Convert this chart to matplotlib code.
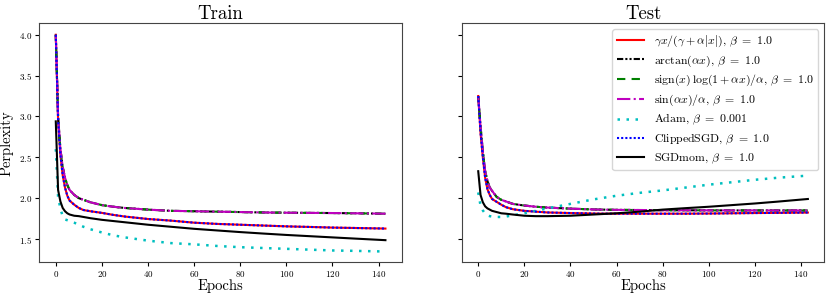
import matplotlib
matplotlib.use("Agg")
import matplotlib.pyplot as plt

plt.rcParams["font.family"] = "serif"
plt.rcParams["font.serif"] = ["cmr10"]
plt.rcParams["mathtext.fontset"] = "cm"
plt.rcParams["axes.formatter.use_mathtext"] = True

epochs = [0, 1, 2, 3, 4, 5, 6, 8, 10, 12, 15, 20, 25, 30, 40, 50, 60, 70, 80,
          90, 100, 110, 120, 130, 143]

# train perplexity
train_gamma = [4.0, 2.95, 2.53, 2.28, 2.13, 2.03, 1.97, 1.92, 1.88, 1.855, 1.84,
               1.82, 1.795, 1.775, 1.745, 1.725, 1.70, 1.685, 1.675, 1.665,
               1.655, 1.648, 1.64, 1.635, 1.628]
train_arctan = [4.0, 3.0, 2.6, 2.38, 2.25, 2.16, 2.10, 2.04, 2.0, 1.98, 1.95,
                1.915, 1.895, 1.88, 1.86, 1.845, 1.84, 1.835, 1.83, 1.825,
                1.822, 1.82, 1.818, 1.815, 1.81]
train_signlog = [4.0, 3.0, 2.6, 2.38, 2.25, 2.16, 2.10, 2.04, 2.0, 1.98, 1.95,
                 1.915, 1.895, 1.88, 1.86, 1.845, 1.84, 1.835, 1.83, 1.825,
                 1.822, 1.82, 1.818, 1.815, 1.81]
train_sin = [4.0, 3.0, 2.6, 2.38, 2.25, 2.16, 2.10, 2.04, 2.0, 1.98, 1.95,
             1.915, 1.895, 1.88, 1.86, 1.845, 1.84, 1.835, 1.83, 1.825,
             1.822, 1.82, 1.818, 1.815, 1.81]
train_adam = [2.6, 2.02, 1.87, 1.78, 1.74, 1.73, 1.72, 1.70, 1.675, 1.65, 1.62,
              1.58, 1.545, 1.52, 1.48, 1.45, 1.435, 1.415, 1.40, 1.39, 1.38,
              1.37, 1.36, 1.355, 1.347]
train_clipped = [4.0, 2.95, 2.53, 2.28, 2.13, 2.03, 1.97, 1.92, 1.88, 1.855,
                 1.84, 1.82, 1.795, 1.775, 1.745, 1.725, 1.70, 1.685, 1.675,
                 1.665, 1.655, 1.648, 1.64, 1.635, 1.628]
train_sgdmom = [2.94, 2.10, 1.96, 1.88, 1.84, 1.815, 1.80, 1.785, 1.78, 1.77,
                1.755, 1.735, 1.72, 1.705, 1.675, 1.65, 1.625, 1.605, 1.585,
                1.567, 1.55, 1.535, 1.52, 1.505, 1.486]

# test perplexity
test_gamma = [3.25, 2.80, 2.50, 2.25, 2.11, 2.04, 1.99, 1.955, 1.92, 1.89,
              1.865, 1.845, 1.835, 1.825, 1.818, 1.812, 1.81, 1.81, 1.81,
              1.81, 1.812, 1.815, 1.818, 1.82, 1.824]
test_arctan = [3.25, 2.88, 2.57, 2.33, 2.21, 2.13, 2.09, 2.015, 1.98, 1.96,
               1.93, 1.91, 1.895, 1.885, 1.872, 1.862, 1.857, 1.855, 1.853,
               1.852, 1.851, 1.85, 1.85, 1.85, 1.85]
test_signlog = [3.25, 2.88, 2.57, 2.33, 2.21, 2.13, 2.09, 2.015, 1.98, 1.96,
                1.93, 1.91, 1.895, 1.885, 1.872, 1.862, 1.857, 1.855, 1.853,
                1.852, 1.851, 1.85, 1.85, 1.85, 1.85]
test_sin = [3.25, 2.88, 2.57, 2.33, 2.21, 2.13, 2.09, 2.015, 1.98, 1.96,
            1.93, 1.91, 1.895, 1.885, 1.872, 1.862, 1.857, 1.855, 1.853,
            1.852, 1.851, 1.85, 1.85, 1.85, 1.85]
test_adam = [2.07, 1.91, 1.85, 1.81, 1.79, 1.78, 1.775, 1.77, 1.77, 1.775,
             1.79, 1.815, 1.845, 1.875, 1.93, 1.985, 2.03, 2.065, 2.095, 2.13,
             2.165, 2.195, 2.225, 2.25, 2.276]
test_clipped = [3.25, 2.80, 2.50, 2.25, 2.11, 2.04, 1.99, 1.955, 1.92, 1.89,
                1.865, 1.845, 1.835, 1.825, 1.818, 1.812, 1.81, 1.81, 1.81,
                1.81, 1.812, 1.815, 1.818, 1.82, 1.824]
test_sgdmom = [2.33, 2.04, 1.95, 1.90, 1.875, 1.86, 1.845, 1.83, 1.815, 1.81,
               1.80, 1.785, 1.78, 1.78, 1.785, 1.80, 1.815, 1.835, 1.86, 1.878,
               1.895, 1.915, 1.935, 1.958, 1.99]

labels = [
    r"$\gamma x/(\gamma+\alpha|x|)$, $\beta\ =\ 1.0$",
    r"$\arctan(\alpha x)$, $\beta\ =\ 1.0$",
    r"$\mathrm{sign}(x)\,\log(1+\alpha x)/\alpha$, $\beta\ =\ 1.0$",
    r"$\sin(\alpha x)/\alpha$, $\beta\ =\ 1.0$",
    r"Adam, $\beta\ =\ 0.001$",
    r"ClippedSGD, $\beta\ =\ 1.0$",
    r"SGDmom, $\beta\ =\ 1.0$",
]
colors = ["r", "k", "g", "m", "c", "b", "k"]
styles = ["-", (0, (3, 1, 1, 1, 1, 1)), (0, (4, 3)), "-.", (0, (1, 2.6)),
          (0, (1, 1)), "-"]

train = [train_gamma, train_arctan, train_signlog, train_sin, train_adam,
         train_clipped, train_sgdmom]
test = [test_gamma, test_arctan, test_signlog, test_sin, test_adam,
        test_clipped, test_sgdmom]

fig, axes = plt.subplots(1, 2, figsize=(8.31, 2.99), dpi=100, sharey=True)
fig.subplots_adjust(left=0.0473, right=0.992, bottom=0.1227, top=0.922,
                    wspace=0.165)

for ax, data, title in zip(axes, [train, test], ["Train", "Test"]):
    for vals, lab, col, ls in zip(data, labels, colors, styles):
        lw = 1.8 if col == "c" else 1.5
        ax.plot(epochs, vals, color=col, linestyle=ls, linewidth=lw, label=lab)
    ax.set_title(title, fontsize=13.5, pad=3)
    ax.set_xlabel("Epochs", fontsize=10.5, labelpad=0)
    ax.tick_params(labelsize=6.5, length=3, pad=2)
    for sp in ax.spines.values():
        sp.set_color("#444444")

axes[0].set_ylabel("Perplexity", fontsize=10.5, labelpad=4)
axes[0].set_yticks([1.5, 2.0, 2.5, 3.0, 3.5, 4.0])
axes[0].set_ylim(1.215, 4.14)
axes[1].legend(loc="upper right", fontsize=8.5, handlelength=2.3,
               labelspacing=0.36, borderaxespad=0.5, borderpad=0.4)

fig.savefig("out.png", dpi=100)
